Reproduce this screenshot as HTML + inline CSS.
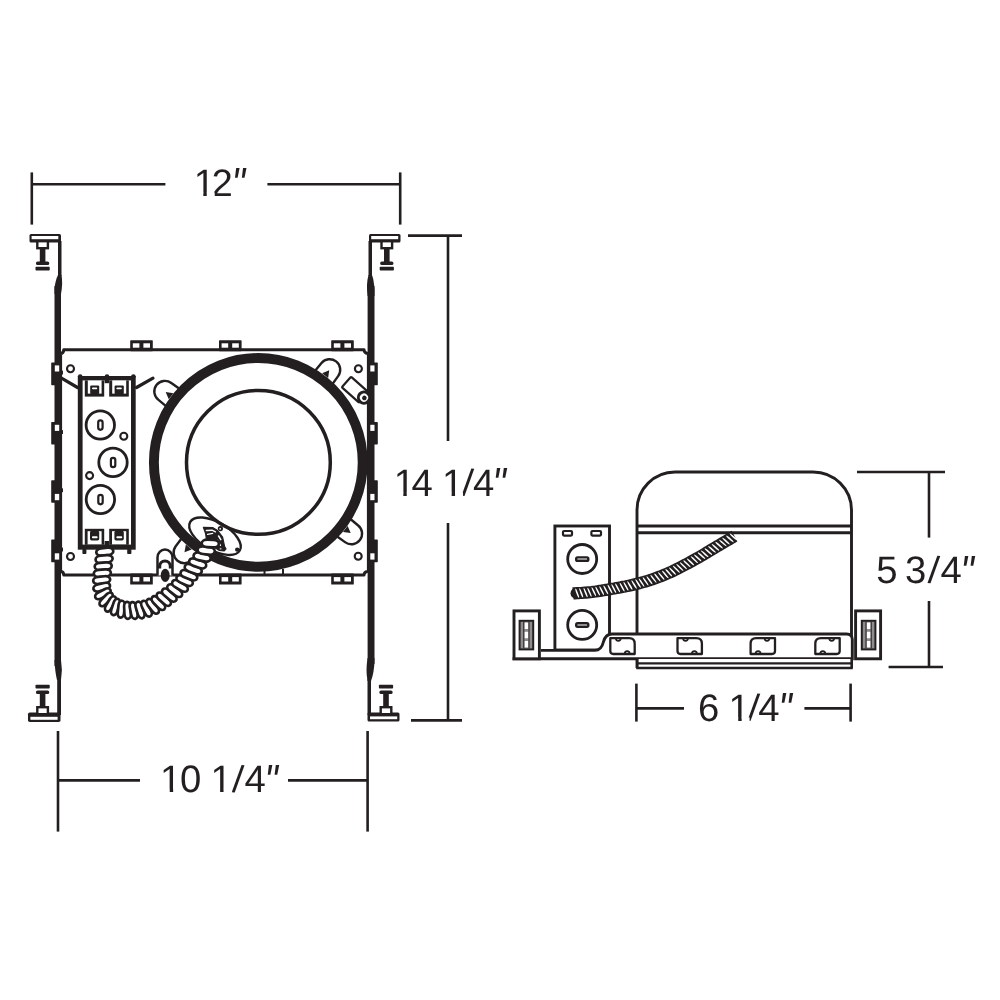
<!DOCTYPE html>
<html lang="en"><head><meta charset="utf-8"><title>Housing dimensions</title>
<style>
html,body{margin:0;padding:0;background:#fff;}
body{width:1000px;height:1000px;overflow:hidden;}
svg{display:block;font-family:"Liberation Sans","DejaVu Sans",sans-serif;text-rendering:geometricPrecision;will-change:transform;}
</style></head>
<body>
<svg width="1000" height="1000" viewBox="0 0 1000 1000">
<rect width="1000" height="1000" fill="#fff"/>
<line x1="31.8" y1="172.4" x2="31.8" y2="224.6" stroke="#231f20" stroke-width="2.6" stroke-linecap="butt"/>
<line x1="400.2" y1="172.4" x2="400.2" y2="224.6" stroke="#231f20" stroke-width="2.6" stroke-linecap="butt"/>
<line x1="31.8" y1="184.3" x2="165.4" y2="184.3" stroke="#231f20" stroke-width="2.6" stroke-linecap="butt"/>
<line x1="267.4" y1="184.3" x2="400.2" y2="184.3" stroke="#231f20" stroke-width="2.6" stroke-linecap="butt"/>
<text x="193.68 211.45" y="195.6" rotate="0 0" font-size="38.3" fill="#231f20">12<tspan font-style="italic" font-size="45.0" x="231.41" y="199.36" textLength="13.58" lengthAdjust="spacingAndGlyphs">&quot;</tspan></text>
<rect x="194.89" y="192.44" width="8.43" height="3.96" fill="#fff"/>
<rect x="206.75" y="192.44" width="7.96" height="3.96" fill="#fff"/>
<line x1="408" y1="235.6" x2="462" y2="235.6" stroke="#231f20" stroke-width="2.6" stroke-linecap="butt"/>
<line x1="411" y1="720.4" x2="462" y2="720.4" stroke="#231f20" stroke-width="2.6" stroke-linecap="butt"/>
<line x1="448" y1="235.6" x2="448" y2="441" stroke="#231f20" stroke-width="2.6" stroke-linecap="butt"/>
<line x1="448" y1="523" x2="448" y2="720.4" stroke="#231f20" stroke-width="2.6" stroke-linecap="butt"/>
<text x="393.68 411.57 432.87 441.98 461.53 472.92" y="495.6" rotate="0 0 0 0 4.5 0" font-size="38.3" fill="#231f20">14 1/4<tspan font-style="italic" font-size="45.0" x="492.21" y="499.26" textLength="13.58" lengthAdjust="spacingAndGlyphs">&quot;</tspan></text>
<rect x="394.89" y="492.44" width="8.43" height="3.96" fill="#fff"/>
<rect x="406.75" y="492.44" width="7.96" height="3.96" fill="#fff"/>
<rect x="443.19" y="492.44" width="8.43" height="3.96" fill="#fff"/>
<rect x="455.05" y="492.44" width="7.96" height="3.96" fill="#fff"/>
<line x1="58" y1="731" x2="58" y2="831.6" stroke="#231f20" stroke-width="2.6" stroke-linecap="butt"/>
<line x1="367.6" y1="731" x2="367.6" y2="831.6" stroke="#231f20" stroke-width="2.6" stroke-linecap="butt"/>
<line x1="58" y1="780.4" x2="140" y2="780.4" stroke="#231f20" stroke-width="2.6" stroke-linecap="butt"/>
<line x1="288" y1="780.4" x2="367.6" y2="780.4" stroke="#231f20" stroke-width="2.6" stroke-linecap="butt"/>
<text x="160.08 179.95 201.24 210.48 231.83 244.47" y="792" rotate="0 0 0 0 4.5 0" font-size="38.3" fill="#231f20">10 1/4<tspan font-style="italic" font-size="45.0" x="264.31" y="795.56" textLength="13.58" lengthAdjust="spacingAndGlyphs">&quot;</tspan></text>
<rect x="161.29" y="788.84" width="8.43" height="3.96" fill="#fff"/>
<rect x="173.15" y="788.84" width="7.96" height="3.96" fill="#fff"/>
<rect x="211.69" y="788.84" width="8.43" height="3.96" fill="#fff"/>
<rect x="223.55" y="788.84" width="7.96" height="3.96" fill="#fff"/>
<path d="M60.6,355 L60.6,353.6 Q63.6,353.4 63.8,349.7 L364,349.7 Q364.2,353.4 368.4,353.6 L368.4,571.2 Q364.2,571.4 364,575.1 L63.8,575.1 Q63.6,571.4 60.6,571.2 Z" fill="none" stroke="#231f20" stroke-width="3" stroke-linejoin="round"/>
<rect x="130.2" y="340.3" width="22.6" height="10.9" fill="#231f20" rx="0.6"/>
<rect x="132.79999999999998" y="343.3" width="6.6" height="4.4" fill="#fff"/>
<rect x="143.39999999999998" y="343.3" width="6.6" height="4.4" fill="#fff"/>
<rect x="130.2" y="573.6" width="22.6" height="10.9" fill="#231f20" rx="0.6"/>
<rect x="132.79999999999998" y="577.1" width="6.6" height="4.4" fill="#fff"/>
<rect x="143.39999999999998" y="577.1" width="6.6" height="4.4" fill="#fff"/>
<rect x="219" y="340.3" width="22.6" height="10.9" fill="#231f20" rx="0.6"/>
<rect x="221.6" y="343.3" width="6.6" height="4.4" fill="#fff"/>
<rect x="232.2" y="343.3" width="6.6" height="4.4" fill="#fff"/>
<rect x="219" y="573.6" width="22.6" height="10.9" fill="#231f20" rx="0.6"/>
<rect x="221.6" y="577.1" width="6.6" height="4.4" fill="#fff"/>
<rect x="232.2" y="577.1" width="6.6" height="4.4" fill="#fff"/>
<rect x="331.2" y="340.3" width="22.6" height="10.9" fill="#231f20" rx="0.6"/>
<rect x="333.8" y="343.3" width="6.6" height="4.4" fill="#fff"/>
<rect x="344.4" y="343.3" width="6.6" height="4.4" fill="#fff"/>
<rect x="331.2" y="573.6" width="22.6" height="10.9" fill="#231f20" rx="0.6"/>
<rect x="333.8" y="577.1" width="6.6" height="4.4" fill="#fff"/>
<rect x="344.4" y="577.1" width="6.6" height="4.4" fill="#fff"/>
<circle cx="70.5" cy="368.8" r="3.5" fill="#fff" stroke="#231f20" stroke-width="2.1"/>
<circle cx="358.4" cy="368.8" r="3.5" fill="#fff" stroke="#231f20" stroke-width="2.1"/>
<circle cx="70.5" cy="556.5" r="3.5" fill="#fff" stroke="#231f20" stroke-width="2.1"/>
<circle cx="358.2" cy="556.3" r="3.5" fill="#fff" stroke="#231f20" stroke-width="2.1"/>
<rect x="54.5" y="286" width="6.5" height="380" fill="#231f20"/>
<rect x="367.6" y="286" width="6.9" height="378" fill="#231f20"/>
<path d="M58,275 L61.5,275 Q63,283 61,294 L54.5,294 L54.5,288 Q55.5,280 58,275 Z" fill="#231f20"/>
<path d="M368.5,275 L372,275 Q374,280 374.5,290 L374.5,296 L367.6,296 Q366,284 368.5,275 Z" fill="#231f20"/>
<path d="M54.5,660 L61,660 Q62.8,670 61,680 L57,680 Q55,672 54.5,660 Z" fill="#231f20"/>
<path d="M367.6,658 L374.5,658 Q374.5,672 371,681 L367.5,681 Q365.5,670 367.6,658 Z" fill="#231f20"/>
<rect x="58" y="241" width="3.5" height="35" fill="#231f20"/>
<rect x="368.5" y="241" width="3.5" height="35" fill="#231f20"/>
<rect x="57.2" y="679" width="3.8" height="36" fill="#231f20"/>
<rect x="367.5" y="679" width="3.5" height="36" fill="#231f20"/>
<rect x="29.5" y="234" width="31.5" height="8.6" fill="#231f20" rx="1.5"/>
<rect x="31.6" y="236" width="26.7" height="3.2" fill="#fff"/>
<rect x="369" y="234" width="31.5" height="8.6" fill="#231f20" rx="1.5"/>
<rect x="371.2" y="236" width="27.0" height="3.2" fill="#fff"/>
<rect x="28" y="712.4" width="32.5" height="9.6" fill="#231f20" rx="1.8"/>
<rect x="30.4" y="716.8" width="27.2" height="3.0" fill="#fff"/>
<rect x="367.5" y="712.4" width="32.0" height="9.2" fill="#231f20" rx="1.5"/>
<rect x="370" y="716.4" width="27.2" height="2.8" fill="#fff"/>
<rect x="36.1" y="241.9" width="13.0" height="7.5" fill="#231f20"/>
<rect x="38.5" y="242.4" width="8.2" height="4.6" fill="#fff"/>
<rect x="39.800000000000004" y="248.4" width="5.6" height="14.0" fill="#231f20"/>
<rect x="36.0" y="261.4" width="13.2" height="3.6" fill="#231f20" rx="1.6"/>
<rect x="35.5" y="266.8" width="14.2" height="3.8" fill="#231f20" rx="0.8"/>
<rect x="380.3" y="241.9" width="13.0" height="7.5" fill="#231f20"/>
<rect x="382.7" y="242.4" width="8.2" height="4.6" fill="#fff"/>
<rect x="384.0" y="248.4" width="5.6" height="14.0" fill="#231f20"/>
<rect x="380.2" y="261.4" width="13.2" height="3.6" fill="#231f20" rx="1.6"/>
<rect x="379.7" y="266.8" width="14.2" height="3.8" fill="#231f20" rx="0.8"/>
<rect x="36.1" y="706" width="13.0" height="7.5" fill="#231f20"/>
<rect x="38.5" y="708.4" width="8.2" height="4.6" fill="#fff"/>
<rect x="39.800000000000004" y="693" width="5.6" height="14" fill="#231f20"/>
<rect x="36.0" y="690.4" width="13.2" height="3.6" fill="#231f20" rx="1.6"/>
<rect x="35.5" y="684.8" width="14.2" height="3.8" fill="#231f20" rx="0.8"/>
<rect x="379.5" y="706" width="13.0" height="7.5" fill="#231f20"/>
<rect x="381.9" y="708.4" width="8.2" height="4.6" fill="#fff"/>
<rect x="383.2" y="693" width="5.6" height="14" fill="#231f20"/>
<rect x="379.4" y="690.4" width="13.2" height="3.6" fill="#231f20" rx="1.6"/>
<rect x="378.9" y="684.8" width="14.2" height="3.8" fill="#231f20" rx="0.8"/>
<rect x="51.2" y="362.6" width="4.8" height="22.6" fill="#231f20" rx="0.8"/>
<rect x="60" y="370.6" width="3" height="4.0" fill="#231f20" rx="0.6"/>
<rect x="54.8" y="365.40000000000003" width="4.4" height="6.1" fill="#fff"/>
<rect x="373" y="362.6" width="4.8" height="22.6" fill="#231f20" rx="0.8"/>
<rect x="370.3" y="365.40000000000003" width="4.2" height="6.1" fill="#fff"/>
<rect x="51.2" y="422" width="4.8" height="22.6" fill="#231f20" rx="0.8"/>
<rect x="60" y="430" width="3" height="4" fill="#231f20" rx="0.6"/>
<rect x="54.8" y="424.8" width="4.4" height="6.1" fill="#fff"/>
<rect x="373" y="422" width="4.8" height="22.6" fill="#231f20" rx="0.8"/>
<rect x="370.3" y="424.8" width="4.2" height="6.1" fill="#fff"/>
<rect x="51.2" y="480.2" width="4.8" height="22.6" fill="#231f20" rx="0.8"/>
<rect x="60" y="488.2" width="3" height="4.0" fill="#231f20" rx="0.6"/>
<rect x="54.8" y="493.90000000000003" width="4.4" height="6.3" fill="#fff"/>
<rect x="373" y="480.2" width="4.8" height="22.6" fill="#231f20" rx="0.8"/>
<rect x="370.3" y="493.90000000000003" width="4.2" height="6.3" fill="#fff"/>
<rect x="51.2" y="539.6" width="4.8" height="22.6" fill="#231f20" rx="0.8"/>
<rect x="60" y="547.6" width="3" height="4.0" fill="#231f20" rx="0.6"/>
<rect x="54.8" y="553.3000000000001" width="4.4" height="6.3" fill="#fff"/>
<rect x="373" y="539.6" width="4.8" height="22.6" fill="#231f20" rx="0.8"/>
<rect x="370.3" y="553.3000000000001" width="4.2" height="6.3" fill="#fff"/>
<path d="M335.8,535.5 L345.0,542.1 A10.6,10.6 0 0 0 357.9,525.2 L349.2,518.0" fill="#fff" stroke="#231f20" stroke-width="2.4"/>
<polygon points="342.9803727576798,531.9264300077344 347.5964291395768,525.8888788916653 350.69042036826914,533.0378101598183" fill="#231f20"/>
<path d="M182.5,537.3 L175.7,546.3 A10.6,10.6 0 0 0 192.0,559.8 L199.5,551.3" fill="#fff" stroke="#231f20" stroke-width="2.4"/>
<polygon points="185.86062122506175,544.6023503477912 191.73339638364163,549.4263022481285 184.48084131457625,552.2689145977419" fill="#231f20"/>
<path d="M180.5,389.6 L171.3,383.0 A10.6,10.6 0 0 0 158.5,399.9 L167.2,407.1" fill="#fff" stroke="#231f20" stroke-width="2.4"/>
<polygon points="173.37745061282754,393.169583234078 168.7824973398735,399.22321061106186 165.66357053378596,392.0851229415058" fill="#231f20"/>
<path d="M331.7,385.1 L338.3,375.9 A10.6,10.6 0 0 0 321.5,363.0 L314.3,371.7" fill="#fff" stroke="#231f20" stroke-width="2.4"/>
<polygon points="328.1215960919386,377.96283567543145 322.1001948024392,373.3257324297818 329.2598825617175,370.2567144777913" fill="#231f20"/>
<g transform="translate(346.4 382) rotate(41.5)">
<rect x="0" y="-7" width="23" height="14" fill="#fff" stroke="#231f20" stroke-width="2.2" rx="1"/>
<circle cx="23.5" cy="0" r="5.6" fill="#fff" stroke="#231f20" stroke-width="3"/>
<circle cx="24" cy="0" r="2.3" fill="#231f20"/>
</g>
<line x1="264.5" y1="570" x2="264.5" y2="575" stroke="#231f20" stroke-width="2" stroke-linecap="butt"/>
<line x1="283" y1="569" x2="283" y2="575" stroke="#231f20" stroke-width="2" stroke-linecap="butt"/>
<circle cx="258.3" cy="462.4" r="104.4" fill="none" stroke="#231f20" stroke-width="9.9"/>
<ellipse cx="215" cy="536.2" rx="28.6" ry="14" transform="rotate(30 215 536.2)" fill="#fff" stroke="#231f20" stroke-width="2.4"/>
<circle cx="258.4" cy="462.4" r="71.9" fill="none" stroke="#231f20" stroke-width="3.5"/>
<path d="M203.4,527.4 L212.6,527.6 L217.6,530.6 L222.6,537 L224.6,546.6 L226,548.8 L224,551 L219.4,550.4 L213,546.4 L206.6,540.6 L205.6,533.6 Z" fill="#231f20" stroke="#231f20" stroke-width="1.2" stroke-linejoin="round"/>
<path d="M206.4,530.4 L212.2,530.2 L215.4,531.8" fill="none" stroke="#fff" stroke-width="1.5" stroke-linecap="round"/>
<path d="M207.6,534.4 L212.6,533.4" fill="none" stroke="#fff" stroke-width="1.4" stroke-linecap="round"/>
<path d="M218.6,536 L220.8,539.6" fill="none" stroke="#fff" stroke-width="1.5" stroke-linecap="round"/>
<path d="M217.4,540.4 L220.4,545.4" fill="none" stroke="#fff" stroke-width="1.3" stroke-linecap="round"/>
<circle cx="220.6" cy="548.8" r="1.0" fill="#aaa"/>
<circle cx="220.4" cy="528.6" r="2.6" fill="#231f20"/>
<circle cx="220.2" cy="528.8" r="0.9" fill="#fff"/>
<circle cx="237.2" cy="549.6" r="2.2" fill="#231f20"/>
<path d="M157.5,575.4 L157.5,557.4 A7.5,7.8 0 0 1 172.5,557.4 L172.5,575.4" fill="#fff" stroke="#231f20" stroke-width="2.5"/>
<path d="M159.6,568.4 L159.6,566.6 A5.4,5.6 0 0 1 170.4,566.6 L170.4,568.4" fill="none" stroke="#231f20" stroke-width="3.2"/>
<ellipse cx="165.2" cy="575.4" rx="4.5" ry="6.6" fill="#231f20"/>
<rect x="77.8" y="376" width="57.9" height="173.7" fill="#231f20"/>
<rect x="82.6" y="380.4" width="48.4" height="164.2" fill="#fff"/>
<circle cx="80.2" cy="376.6" r="2.3" fill="#231f20"/>
<circle cx="107" cy="376.6" r="2.3" fill="#231f20"/>
<circle cx="133.4" cy="376.6" r="2.3" fill="#231f20"/>
<rect x="82.4" y="549" width="4.0" height="5" fill="#231f20" rx="0.8"/>
<rect x="127.2" y="549" width="4.2" height="5" fill="#231f20" rx="0.8"/>
<rect x="104.6" y="541" width="4.6" height="4" fill="#231f20"/>
<rect x="104.6" y="380" width="4.6" height="3.2" fill="#231f20"/>
<rect x="84.8" y="380.4" width="19.4" height="16.2" fill="#231f20"/>
<rect x="87.8" y="380.4" width="13.8" height="13.2" fill="#fff"/>
<rect x="90.2" y="385.4" width="9.0" height="8.7" fill="#231f20" rx="1.2"/>
<rect x="92.0" y="387.4" width="5.2" height="1.8" fill="#fff" rx="0.8"/>
<rect x="109.2" y="380.4" width="19.6" height="16.2" fill="#231f20"/>
<rect x="112.2" y="380.4" width="14.0" height="13.2" fill="#fff"/>
<rect x="114.60000000000001" y="385.4" width="9.2" height="8.7" fill="#231f20" rx="1.2"/>
<rect x="116.4" y="387.4" width="5.4" height="1.8" fill="#fff" rx="0.8"/>
<rect x="84.8" y="528.8" width="19.4" height="16.0" fill="#231f20"/>
<rect x="87.6" y="531.1999999999999" width="14.0" height="13.1" fill="#fff"/>
<rect x="90.0" y="530.8" width="9.2" height="9.6" fill="#231f20" rx="1.6"/>
<rect x="92.0" y="536.1999999999999" width="5.6" height="2.0" fill="#fff" rx="0.8"/>
<rect x="109.2" y="528.8" width="19.6" height="16.0" fill="#231f20"/>
<rect x="112.0" y="531.1999999999999" width="14.2" height="13.1" fill="#fff"/>
<rect x="114.4" y="530.8" width="9.4" height="9.6" fill="#231f20" rx="1.6"/>
<rect x="116.4" y="536.1999999999999" width="5.8" height="2.0" fill="#fff" rx="0.8"/>
<circle cx="100.3" cy="425" r="14.2" fill="#fff" stroke="#231f20" stroke-width="2.8"/>
<rect x="98.2" y="420.4" width="4.4" height="9.4" fill="#fff" stroke="#231f20" stroke-width="2.2" rx="2.2"/>
<circle cx="113" cy="462.4" r="14.2" fill="#fff" stroke="#231f20" stroke-width="2.8"/>
<rect x="110.9" y="457.79999999999995" width="4.4" height="9.4" fill="#fff" stroke="#231f20" stroke-width="2.2" rx="2.2"/>
<circle cx="100.4" cy="499.5" r="14.2" fill="#fff" stroke="#231f20" stroke-width="2.8"/>
<rect x="98.30000000000001" y="494.9" width="4.4" height="9.4" fill="#fff" stroke="#231f20" stroke-width="2.2" rx="2.2"/>
<circle cx="123.8" cy="436.2" r="3.5" fill="#fff" stroke="#231f20" stroke-width="2.1"/>
<circle cx="89.6" cy="475.6" r="3.5" fill="#fff" stroke="#231f20" stroke-width="2.1"/>
<line x1="61.5" y1="378.2" x2="77.5" y2="387.5" stroke="#231f20" stroke-width="3.2" stroke-linecap="round"/>
<line x1="136.5" y1="387.5" x2="153" y2="378.2" stroke="#231f20" stroke-width="3.2" stroke-linecap="round"/>
<rect x="-3.70" y="-8.56" width="7.40" height="17.12" rx="3.70" ry="5.55" transform="translate(104.8 551.7) rotate(83.8)" fill="#fff" stroke="#231f20" stroke-width="2.7"/>
<rect x="-3.65" y="-8.55" width="7.30" height="17.09" rx="3.65" ry="5.48" transform="translate(104.1 559.1) rotate(85.5)" fill="#fff" stroke="#231f20" stroke-width="2.7"/>
<rect x="-3.60" y="-8.53" width="7.20" height="17.07" rx="3.60" ry="5.40" transform="translate(103.2 566.2) rotate(86.4)" fill="#fff" stroke="#231f20" stroke-width="2.7"/>
<rect x="-3.55" y="-8.52" width="7.10" height="17.04" rx="3.55" ry="5.33" transform="translate(102.3 573.2) rotate(86.3)" fill="#fff" stroke="#231f20" stroke-width="2.7"/>
<rect x="-3.50" y="-8.51" width="7.01" height="17.02" rx="3.50" ry="5.26" transform="translate(101.7 580.1) rotate(83.8)" fill="#fff" stroke="#231f20" stroke-width="2.7"/>
<rect x="-3.44" y="-8.50" width="6.88" height="17.01" rx="3.44" ry="5.16" transform="translate(101.7 587.1) rotate(76.2)" fill="#fff" stroke="#231f20" stroke-width="2.7"/>
<rect x="-3.30" y="-8.49" width="6.61" height="16.99" rx="3.30" ry="4.96" transform="translate(102.9 593.8) rotate(62.5)" fill="#fff" stroke="#231f20" stroke-width="2.7"/>
<rect x="-3.17" y="-8.49" width="6.35" height="16.97" rx="3.17" ry="4.76" transform="translate(106.1 599.4) rotate(43.7)" fill="#fff" stroke="#231f20" stroke-width="2.7"/>
<rect x="-3.09" y="-8.48" width="6.18" height="16.97" rx="3.09" ry="4.63" transform="translate(110.5 603.9) rotate(30.2)" fill="#fff" stroke="#231f20" stroke-width="2.7"/>
<rect x="-3.13" y="-8.50" width="6.26" height="16.99" rx="3.13" ry="4.70" transform="translate(115.5 607.0) rotate(18.0)" fill="#fff" stroke="#231f20" stroke-width="2.7"/>
<rect x="-3.18" y="-8.51" width="6.35" height="17.01" rx="3.18" ry="4.77" transform="translate(121.3 609.2) rotate(5.8)" fill="#fff" stroke="#231f20" stroke-width="2.7"/>
<rect x="-3.22" y="-8.52" width="6.45" height="17.04" rx="3.22" ry="4.83" transform="translate(127.5 610.3) rotate(-3.0)" fill="#fff" stroke="#231f20" stroke-width="2.7"/>
<rect x="-3.27" y="-8.53" width="6.54" height="17.07" rx="3.27" ry="4.90" transform="translate(133.7 610.5) rotate(-11.0)" fill="#fff" stroke="#231f20" stroke-width="2.7"/>
<rect x="-3.32" y="-8.55" width="6.63" height="17.09" rx="3.32" ry="4.97" transform="translate(140.0 610.0) rotate(-16.7)" fill="#fff" stroke="#231f20" stroke-width="2.7"/>
<rect x="-3.36" y="-8.56" width="6.72" height="17.12" rx="3.36" ry="5.04" transform="translate(146.5 608.7) rotate(-26.0)" fill="#fff" stroke="#231f20" stroke-width="2.7"/>
<rect x="-3.39" y="-8.58" width="6.78" height="17.17" rx="3.39" ry="5.08" transform="translate(152.7 606.3) rotate(-37.2)" fill="#fff" stroke="#231f20" stroke-width="2.7"/>
<rect x="-3.42" y="-8.61" width="6.83" height="17.22" rx="3.42" ry="5.12" transform="translate(158.4 603.1) rotate(-44.2)" fill="#fff" stroke="#231f20" stroke-width="2.7"/>
<rect x="-3.44" y="-8.63" width="6.89" height="17.27" rx="3.44" ry="5.17" transform="translate(163.8 599.2) rotate(-48.1)" fill="#fff" stroke="#231f20" stroke-width="2.7"/>
<rect x="-3.47" y="-8.66" width="6.94" height="17.32" rx="3.47" ry="5.21" transform="translate(169.3 595.1) rotate(-50.3)" fill="#fff" stroke="#231f20" stroke-width="2.7"/>
<rect x="-3.50" y="-8.69" width="7.00" height="17.37" rx="3.50" ry="5.25" transform="translate(174.7 590.7) rotate(-52.8)" fill="#fff" stroke="#231f20" stroke-width="2.7"/>
<rect x="-3.53" y="-8.72" width="7.05" height="17.43" rx="3.53" ry="5.29" transform="translate(180.0 585.9) rotate(-59.2)" fill="#fff" stroke="#231f20" stroke-width="2.7"/>
<rect x="-3.55" y="-8.75" width="7.10" height="17.50" rx="3.55" ry="5.33" transform="translate(184.6 580.6) rotate(-65.2)" fill="#fff" stroke="#231f20" stroke-width="2.7"/>
<rect x="-3.58" y="-8.78" width="7.16" height="17.56" rx="3.58" ry="5.37" transform="translate(188.9 575.2) rotate(-68.3)" fill="#fff" stroke="#231f20" stroke-width="2.7"/>
<rect x="-3.63" y="-8.87" width="7.27" height="17.75" rx="3.63" ry="5.45" transform="translate(193.2 569.2) rotate(-69.9)" fill="#fff" stroke="#231f20" stroke-width="2.7"/>
<rect x="-3.70" y="-8.88" width="7.39" height="17.76" rx="3.70" ry="5.55" transform="translate(197.7 563.4) rotate(-71.9)" fill="#fff" stroke="#231f20" stroke-width="2.7"/>
<rect x="-3.75" y="-8.72" width="7.51" height="17.44" rx="3.75" ry="5.63" transform="translate(202.1 557.1) rotate(-77.6)" fill="#fff" stroke="#231f20" stroke-width="2.7"/>
<rect x="-3.78" y="-8.63" width="7.57" height="17.26" rx="3.78" ry="5.67" transform="translate(206.2 550.6) rotate(-83.3)" fill="#fff" stroke="#231f20" stroke-width="2.7"/>
<rect x="-3.79" y="-8.60" width="7.57" height="17.20" rx="3.79" ry="5.68" transform="translate(210.3 543.5) rotate(-88.2)" fill="#fff" stroke="#231f20" stroke-width="2.7"/>
<!--SIDE-->
<path d="M637,668 L637,510 A38,38 0 0 1 675,472 L813,472 A38.5,38 0 0 1 851.5,510 L851.5,668" fill="#fff" stroke="#231f20" stroke-width="2.9"/>
<line x1="637" y1="526" x2="851.5" y2="526" stroke="#231f20" stroke-width="2.9" stroke-linecap="butt"/>
<line x1="637" y1="532.8" x2="851.5" y2="532.8" stroke="#231f20" stroke-width="2.9" stroke-linecap="butt"/>
<rect x="554.9" y="526" width="54.6" height="124" fill="#fff" stroke="#231f20" stroke-width="2.9"/>
<rect x="563" y="531" width="9" height="4.6" fill="#fff" stroke="#231f20" stroke-width="2.2" rx="1"/>
<rect x="591.4" y="531" width="9.6" height="4.6" fill="#fff" stroke="#231f20" stroke-width="2.2" rx="1"/>
<circle cx="582.2" cy="559" r="14.5" fill="#fff" stroke="#231f20" stroke-width="2.8"/>
<rect x="576.2" y="557.4" width="12.1" height="3.4" fill="#fff" stroke="#231f20" stroke-width="2.4" rx="1.4"/>
<circle cx="582.2" cy="624.9" r="14.5" fill="#fff" stroke="#231f20" stroke-width="2.8"/>
<rect x="576.2" y="623.3" width="12.1" height="3.4" fill="#fff" stroke="#231f20" stroke-width="2.4" rx="1.4"/>
<path d="M512.6,658.8 L852.3,658.8 L852.3,639.5 Q852.3,634 846.5,634 L612,634 Q605.5,634 603.4,642 Q601.4,650.4 595,650.4 L541,650.4" fill="#fff" stroke="#231f20" stroke-width="2.9"/>
<path d="M637.4,659 L637.4,668 L851.6,668 L851.6,659" fill="#fff" stroke="#231f20" stroke-width="2.4"/>
<line x1="637.4" y1="663.3" x2="851.6" y2="663.3" stroke="#231f20" stroke-width="2.2" stroke-linecap="butt"/>
<rect x="514" y="610.9" width="25.4" height="47.9" fill="#fff" stroke="#231f20" stroke-width="2.9"/>
<rect x="518.6" y="619.8" width="15.6" height="30.6" fill="#231f20"/>
<rect x="520.6" y="621.8" width="11.6" height="26.6" fill="#8f8c8d"/>
<rect x="523.3000000000001" y="621.8" width="1.0" height="26.6" fill="#231f20"/>
<rect x="528.5000000000001" y="621.8" width="1.0" height="26.6" fill="#231f20"/>
<rect x="524.7" y="622.6" width="3.4" height="6.4" fill="#fff"/>
<rect x="524.7" y="631.8" width="3.4" height="6.4" fill="#fff"/>
<rect x="524.7" y="641" width="3.4" height="6.4" fill="#fff"/>
<rect x="855.6" y="610.9" width="25.0" height="47.9" fill="#fff" stroke="#231f20" stroke-width="2.9"/>
<rect x="860.8" y="619.8" width="15.6" height="30.6" fill="#231f20"/>
<rect x="862.8" y="621.8" width="11.6" height="26.6" fill="#8f8c8d"/>
<rect x="865.4999999999999" y="621.8" width="1.0" height="26.6" fill="#231f20"/>
<rect x="870.6999999999999" y="621.8" width="1.0" height="26.6" fill="#231f20"/>
<rect x="866.8999999999999" y="622.6" width="3.4" height="6.4" fill="#fff"/>
<rect x="866.8999999999999" y="631.8" width="3.4" height="6.4" fill="#fff"/>
<rect x="866.8999999999999" y="641" width="3.4" height="6.4" fill="#fff"/>
<g transform="translate(610.3 0)">
<path d="M0,638.2 L18.9,638.2 Q24.4,638.2 24.4,643.7 L24.4,654 L3,654 Q0,654 0,651 Z" fill="#fff" stroke="#231f20" stroke-width="2.3" stroke-linejoin="round"/>
<path d="M5.6,638.2 A2.4,2.6 0 0 0 10.4,638.2" fill="none" stroke="#231f20" stroke-width="1.8"/>
<path d="M14.4,654 A2.5,2.8 0 0 1 19.4,654" fill="none" stroke="#231f20" stroke-width="1.8"/>
</g>
<g transform="translate(677.5 0)">
<path d="M0,638.2 L18.9,638.2 Q24.4,638.2 24.4,643.7 L24.4,654 L3,654 Q0,654 0,651 Z" fill="#fff" stroke="#231f20" stroke-width="2.3" stroke-linejoin="round"/>
<path d="M5.6,638.2 A2.4,2.6 0 0 0 10.4,638.2" fill="none" stroke="#231f20" stroke-width="1.8"/>
<path d="M14.4,654 A2.5,2.8 0 0 1 19.4,654" fill="none" stroke="#231f20" stroke-width="1.8"/>
</g>
<g transform="translate(775.0 0) scale(-1 1)">
<path d="M0,638.2 L18.9,638.2 Q24.4,638.2 24.4,643.7 L24.4,654 L3,654 Q0,654 0,651 Z" fill="#fff" stroke="#231f20" stroke-width="2.3" stroke-linejoin="round"/>
<path d="M5.6,638.2 A2.4,2.6 0 0 0 10.4,638.2" fill="none" stroke="#231f20" stroke-width="1.8"/>
<path d="M14.4,654 A2.5,2.8 0 0 1 19.4,654" fill="none" stroke="#231f20" stroke-width="1.8"/>
</g>
<g transform="translate(839.6999999999999 0) scale(-1 1)">
<path d="M0,638.2 L18.9,638.2 Q24.4,638.2 24.4,643.7 L24.4,654 L3,654 Q0,654 0,651 Z" fill="#fff" stroke="#231f20" stroke-width="2.3" stroke-linejoin="round"/>
<path d="M5.6,638.2 A2.4,2.6 0 0 0 10.4,638.2" fill="none" stroke="#231f20" stroke-width="1.8"/>
<path d="M14.4,654 A2.5,2.8 0 0 1 19.4,654" fill="none" stroke="#231f20" stroke-width="1.8"/>
</g>
<ellipse cx="577" cy="593.2" rx="6.5" ry="5.9" fill="#231f20"/>
<path d="M573.0,593.4 L574.0,593.3 L575.3,593.3 L576.8,593.2 L578.4,593.1 L580.2,593.0 L582.2,592.9 L584.1,592.7 L586.1,592.6 L588.1,592.4 L590.0,592.2 L591.9,592.0 L593.8,591.7 L595.7,591.5 L597.7,591.2 L599.7,590.9 L601.7,590.6 L603.8,590.2 L605.8,589.9 L607.9,589.6 L610.0,589.2 L612.1,588.8 L614.3,588.5 L616.5,588.1 L618.8,587.7 L621.0,587.3 L623.2,586.8 L625.5,586.4 L627.7,585.9 L629.9,585.5 L632.0,585.0 L634.1,584.5 L636.1,584.0 L638.1,583.5 L640.1,583.0 L642.1,582.4 L644.1,581.9 L646.1,581.3 L648.0,580.7 L650.0,580.1 L652.0,579.4 L654.0,578.7 L656.0,578.0 L657.9,577.3 L659.9,576.6 L661.8,575.8 L663.8,575.0 L665.8,574.2 L667.8,573.3 L669.9,572.4 L672.0,571.4 L674.2,570.4 L676.4,569.3 L678.7,568.1 L681.1,566.9 L683.4,565.7 L685.8,564.4 L688.2,563.2 L690.5,561.9 L692.8,560.6 L695.0,559.4 L697.2,558.2 L699.4,556.9 L701.5,555.7 L703.7,554.4 L705.8,553.1 L707.9,551.9 L709.9,550.6 L712.0,549.4 L714.0,548.2 L716.0,547.0 L718.0,545.8 L720.2,544.6 L722.3,543.3 L724.5,542.0 L726.6,540.8 L728.6,539.7 L730.4,538.6 L732.0,537.6 L733.4,536.8 L734.5,536.2" fill="none" stroke="#231f20" stroke-width="12.2" stroke-linecap="butt" stroke-linejoin="round"/>
<ellipse cx="577.2" cy="593.2" rx="0.78" ry="4.90" transform="rotate(-21.1 577.2 593.2)" fill="#fff"/>
<ellipse cx="581.2" cy="592.9" rx="0.78" ry="4.90" transform="rotate(-21.6 581.2 592.9)" fill="#fff"/>
<ellipse cx="585.6" cy="592.6" rx="0.78" ry="4.90" transform="rotate(-22.6 585.6 592.6)" fill="#fff"/>
<ellipse cx="589.5" cy="592.3" rx="0.78" ry="4.90" transform="rotate(-24.2 589.5 592.3)" fill="#fff"/>
<ellipse cx="593.8" cy="591.7" rx="0.78" ry="4.90" transform="rotate(-25.5 593.8 591.7)" fill="#fff"/>
<ellipse cx="597.7" cy="591.2" rx="0.78" ry="4.90" transform="rotate(-26.3 597.7 591.2)" fill="#fff"/>
<ellipse cx="601.7" cy="590.6" rx="0.78" ry="4.90" transform="rotate(-27.0 601.7 590.6)" fill="#fff"/>
<ellipse cx="605.8" cy="589.9" rx="0.78" ry="4.90" transform="rotate(-27.4 605.8 589.9)" fill="#fff"/>
<ellipse cx="610.0" cy="589.2" rx="0.78" ry="4.90" transform="rotate(-27.7 610.0 589.2)" fill="#fff"/>
<ellipse cx="613.8" cy="588.6" rx="0.78" ry="4.90" transform="rotate(-27.8 613.8 588.6)" fill="#fff"/>
<ellipse cx="617.6" cy="587.9" rx="0.78" ry="4.90" transform="rotate(-28.1 617.6 587.9)" fill="#fff"/>
<ellipse cx="622.1" cy="587.1" rx="0.78" ry="4.90" transform="rotate(-28.7 622.1 587.1)" fill="#fff"/>
<ellipse cx="626.0" cy="586.3" rx="0.78" ry="4.90" transform="rotate(-29.4 626.0 586.3)" fill="#fff"/>
<ellipse cx="629.9" cy="585.5" rx="0.78" ry="4.90" transform="rotate(-30.4 629.9 585.5)" fill="#fff"/>
<ellipse cx="634.1" cy="584.5" rx="0.78" ry="4.90" transform="rotate(-31.5 634.1 584.5)" fill="#fff"/>
<ellipse cx="638.1" cy="583.5" rx="0.78" ry="4.90" transform="rotate(-32.4 638.1 583.5)" fill="#fff"/>
<ellipse cx="641.6" cy="582.6" rx="0.78" ry="4.90" transform="rotate(-33.4 641.6 582.6)" fill="#fff"/>
<ellipse cx="645.6" cy="581.4" rx="0.78" ry="4.90" transform="rotate(-34.6 645.6 581.4)" fill="#fff"/>
<ellipse cx="649.5" cy="580.2" rx="0.78" ry="4.90" transform="rotate(-35.9 649.5 580.2)" fill="#fff"/>
<ellipse cx="653.5" cy="578.9" rx="0.78" ry="4.90" transform="rotate(-37.1 653.5 578.9)" fill="#fff"/>
<ellipse cx="657.4" cy="577.5" rx="0.78" ry="4.90" transform="rotate(-38.3 657.4 577.5)" fill="#fff"/>
<ellipse cx="661.3" cy="576.0" rx="0.78" ry="4.90" transform="rotate(-39.5 661.3 576.0)" fill="#fff"/>
<ellipse cx="665.3" cy="574.4" rx="0.78" ry="4.90" transform="rotate(-40.8 665.3 574.4)" fill="#fff"/>
<ellipse cx="668.8" cy="572.8" rx="0.78" ry="4.90" transform="rotate(-42.0 668.8 572.8)" fill="#fff"/>
<ellipse cx="672.5" cy="571.1" rx="0.78" ry="4.90" transform="rotate(-43.2 672.5 571.1)" fill="#fff"/>
<ellipse cx="676.4" cy="569.3" rx="0.78" ry="4.90" transform="rotate(-44.4 676.4 569.3)" fill="#fff"/>
<ellipse cx="679.9" cy="567.5" rx="0.78" ry="4.90" transform="rotate(-45.2 679.9 567.5)" fill="#fff"/>
<ellipse cx="683.4" cy="565.7" rx="0.78" ry="4.90" transform="rotate(-45.8 683.4 565.7)" fill="#fff"/>
<ellipse cx="687.0" cy="563.8" rx="0.78" ry="4.90" transform="rotate(-46.3 687.0 563.8)" fill="#fff"/>
<ellipse cx="690.5" cy="561.9" rx="0.78" ry="4.90" transform="rotate(-46.7 690.5 561.9)" fill="#fff"/>
<ellipse cx="694.4" cy="559.7" rx="0.78" ry="4.90" transform="rotate(-47.0 694.4 559.7)" fill="#fff"/>
<ellipse cx="697.7" cy="557.9" rx="0.78" ry="4.90" transform="rotate(-47.7 697.7 557.9)" fill="#fff"/>
<ellipse cx="701.5" cy="555.7" rx="0.78" ry="4.90" transform="rotate(-48.5 701.5 555.7)" fill="#fff"/>
<ellipse cx="704.7" cy="553.8" rx="0.78" ry="4.90" transform="rotate(-48.9 704.7 553.8)" fill="#fff"/>
<ellipse cx="708.4" cy="551.6" rx="0.78" ry="4.90" transform="rotate(-49.1 708.4 551.6)" fill="#fff"/>
<ellipse cx="712.0" cy="549.4" rx="0.78" ry="4.90" transform="rotate(-49.0 712.0 549.4)" fill="#fff"/>
<ellipse cx="715.5" cy="547.3" rx="0.78" ry="4.90" transform="rotate(-48.5 715.5 547.3)" fill="#fff"/>
<ellipse cx="719.1" cy="545.2" rx="0.78" ry="4.90" transform="rotate(-48.3 719.1 545.2)" fill="#fff"/>
<ellipse cx="722.9" cy="543.0" rx="0.78" ry="4.90" transform="rotate(-48.3 722.9 543.0)" fill="#fff"/>
<ellipse cx="726.0" cy="541.1" rx="0.78" ry="4.90" transform="rotate(-48.2 726.0 541.1)" fill="#fff"/>
<ellipse cx="729.9" cy="538.9" rx="0.78" ry="4.90" transform="rotate(-48.2 729.9 538.9)" fill="#fff"/>
<ellipse cx="733.4" cy="536.8" rx="0.78" ry="4.90" transform="rotate(-48.2 733.4 536.8)" fill="#fff"/>
<line x1="636.4" y1="683.6" x2="636.4" y2="721.6" stroke="#231f20" stroke-width="2.6" stroke-linecap="butt"/>
<line x1="850.6" y1="683.6" x2="850.6" y2="721.6" stroke="#231f20" stroke-width="2.6" stroke-linecap="butt"/>
<line x1="636.4" y1="708.4" x2="684" y2="708.4" stroke="#231f20" stroke-width="2.6" stroke-linecap="butt"/>
<line x1="804.4" y1="708.4" x2="850.6" y2="708.4" stroke="#231f20" stroke-width="2.6" stroke-linecap="butt"/>
<text x="697.92 719.21 728.58 747.43 758.37" y="720.6" rotate="0 0 0 4.5 0" font-size="38.3" fill="#231f20">6 1/4<tspan font-style="italic" font-size="45.0" x="778.21" y="724.36" textLength="13.58" lengthAdjust="spacingAndGlyphs">&quot;</tspan></text>
<rect x="729.79" y="717.44" width="8.43" height="3.96" fill="#fff"/>
<rect x="741.65" y="717.44" width="7.96" height="3.96" fill="#fff"/>
<line x1="857" y1="472" x2="945" y2="472" stroke="#231f20" stroke-width="2.6" stroke-linecap="butt"/>
<line x1="888.6" y1="667" x2="943" y2="667" stroke="#231f20" stroke-width="2.6" stroke-linecap="butt"/>
<line x1="929" y1="472" x2="929" y2="537.6" stroke="#231f20" stroke-width="2.6" stroke-linecap="butt"/>
<line x1="929" y1="601" x2="929" y2="667" stroke="#231f20" stroke-width="2.6" stroke-linecap="butt"/>
<text x="876.34 897.63 905.11 927.43 940.47" y="582.8" rotate="0 0 0 4.5 0" font-size="38.3" fill="#231f20">5 3/4<tspan font-style="italic" font-size="45.0" x="960.31" y="586.56" textLength="13.58" lengthAdjust="spacingAndGlyphs">&quot;</tspan></text>
</svg>
</body></html>
